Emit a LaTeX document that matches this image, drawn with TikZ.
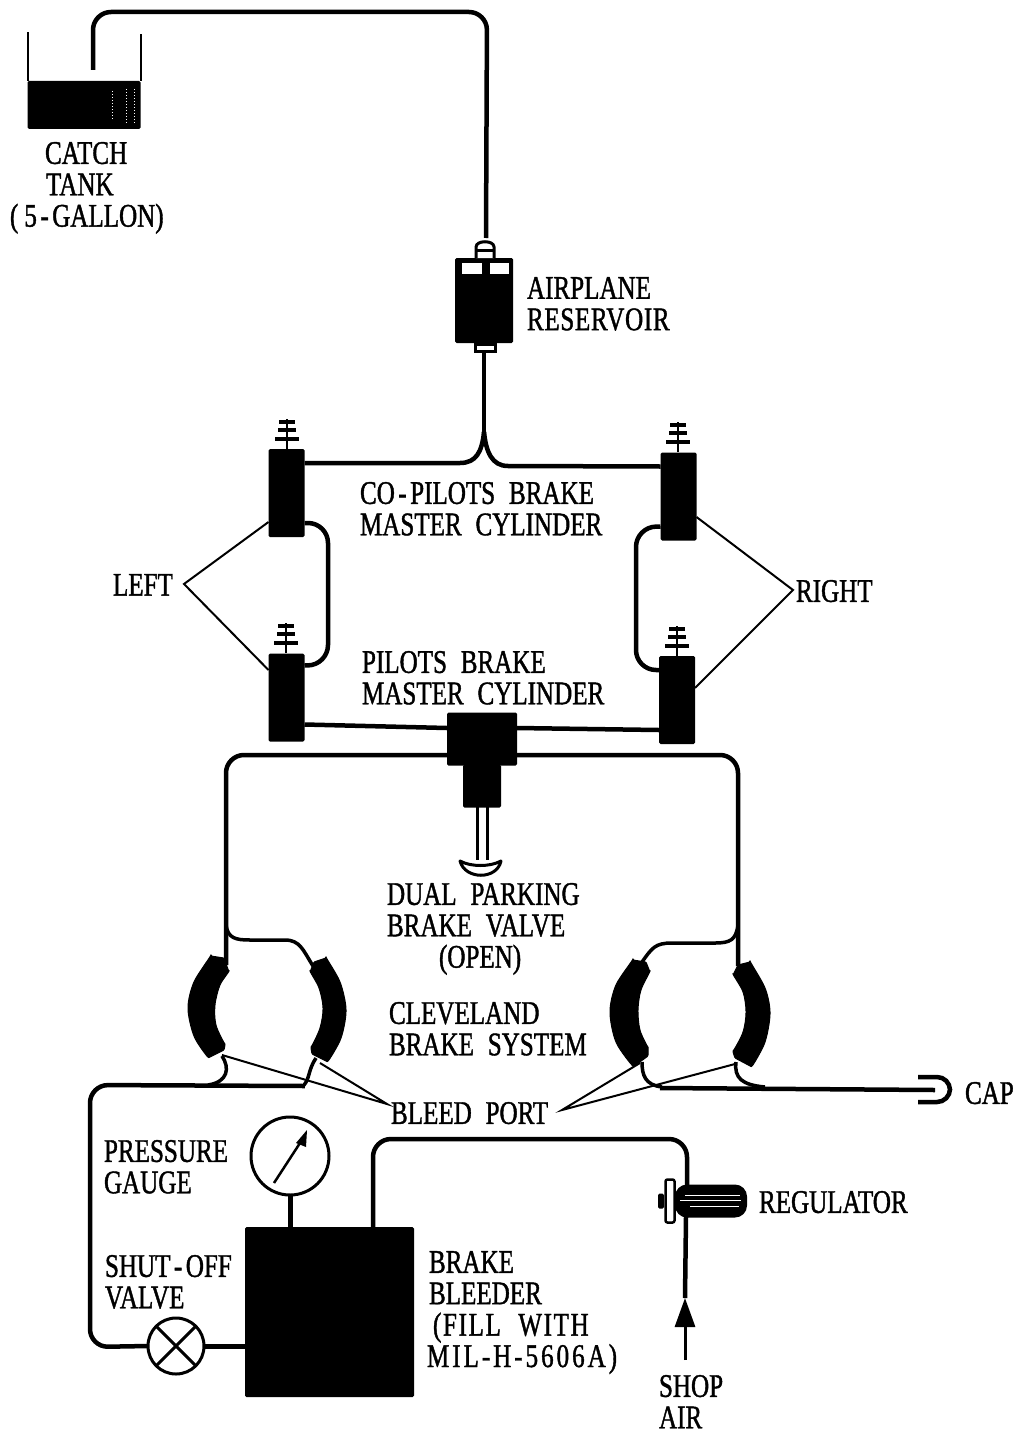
\documentclass[tikz,border=0pt]{standalone}
\usepackage{fontspec}
\setmainfont[FakeStretch=0.76,FakeBold=1.2,WordSpace=2.2]{Liberation Serif}
\usetikzlibrary{positioning,calc,arrows.meta}
\tikzset{PIPE/.style={line width=4.5pt, rounded corners=18pt}}
\tikzset{THIN/.style={line width=2pt}}
\tikzset{SOLID/.style={rectangle, fill=black, inner sep=0pt, outer sep=0pt, rounded corners=1.5pt}}
\tikzset{CYLINDER/.style={SOLID, minimum width=36pt, minimum height=88pt}}
\tikzset{PAD/.style={fill=black, draw=black, line width=1pt, rounded corners=1pt}}
\tikzset{DIAL/.style={circle, draw, fill=white, line width=3pt, inner sep=0pt, outer sep=0pt}}
\tikzset{LABEL/.style={anchor=north west, inner sep=0pt, outer sep=0pt, align=left, font=\fontsize{33pt}{31.4pt}\selectfont}}
\newcommand{\HY}{\hspace{3.5pt}-\hspace{3.5pt}}

\begin{document}
\begin{tikzpicture}[x=1pt, y=-1pt]
    \useasboundingbox (0,0) rectangle (1016,1434);

    % catch tank
    \node[SOLID, minimum width=113pt, minimum height=48pt] (n_liquid) at (84,105) {};
    \draw[THIN] (n_liquid.north west) -- ++(0,-49);
    \draw[THIN] (n_liquid.north east) -- ++(0,-47);
    \draw[white, line width=1pt, dotted] ($(n_liquid.north east)+(-28,10)$) -- ++(0,30);
    \draw[white, line width=1pt, dotted] ($(n_liquid.north east)+(-14,8)$) -- ++(0,34);
    \draw[white, line width=1pt, dotted] ($(n_liquid.north east)+(-6,8)$) -- ++(0,34);
    \node[LABEL] (n_tank_txt) at (10,142) {\hspace{35pt}CATCH\\\hspace{36pt}TANK\\(\hspace{6pt}5\HY GALLON)};

    % reservoir
    \node[SOLID, minimum width=58pt, minimum height=85pt] (n_res) at (484,300.5) {};
    \fill[white] (462,263) rectangle (482,274);
    \fill[white] (490,263) rectangle (509,274);
    \draw[fill=white, line width=3pt] (476,258) -- (476,247) .. controls (476,240) and (494,240) .. (494,247) -- (494,258);
    \draw[line width=3pt] (476,250) -- (494,250);
    \draw[fill=white, line width=3pt] (475,344) rectangle (495,351);
    \coordinate (res_top) at (486,238);
    \coordinate (res_bottom) at (484,352);
    \coordinate (fork) at (484,432);
    \coordinate (tank_pipe) at (93,70);
    \draw[PIPE] (tank_pipe) -- (93,12) -- (487,12) -- (res_top);
    \draw[line width=3.5pt] (res_bottom) -- (fork);
    \node[LABEL] (n_res_txt) at (527,277) {AIRPLANE\\{\addfontfeature{LetterSpace=2}RESERVOIR}};

    % master cylinders
    \node[CYLINDER] (n_cyl_tl) at (286.5,493) {};
    \node[CYLINDER] (n_cyl_tr) at (678.5,496.5) {};
    \node[CYLINDER] (n_cyl_bl) at (286.5,697.5) {};
    \node[CYLINDER] (n_cyl_br) at (677,700) {};
    \foreach \cyl/\sx/\sy in {n_cyl_tl/287/449, n_cyl_tr/678/452, n_cyl_bl/286/653, n_cyl_br/677/656} {
        \draw[line width=2.5pt] (\sx,\sy) -- ++(0,-30);
        \draw[line width=3.5pt] (\sx-8,\sy-27) -- ++(16,0);
        \draw[line width=3.5pt] (\sx-9,\sy-19) -- ++(18,0);
        \draw[line width=3.5pt] (\sx-12,\sy-10) -- ++(24,0);
    }
    \draw[PIPE, rounded corners=0pt] ($(n_cyl_tl.east)+(0,-30)$) -- (460,463) .. controls (476,463) and (482,452) .. (fork);
    \draw[PIPE, rounded corners=0pt] ($(n_cyl_tr.west)+(0,-30)$) -- (508,466) .. controls (492,466) and (486,452) .. (fork);
    \draw[PIPE, rounded corners=20pt] ($(n_cyl_tl.east)+(0,30)$) -- (328,523) -- (328,665) -- ($(n_cyl_bl.east)+(0,-32)$);
    \draw[PIPE, rounded corners=20pt] ($(n_cyl_tr.west)+(0,30)$) -- (636,527) -- (636,670) -- ($(n_cyl_br.west)+(0,-30)$);
    \node[LABEL] (n_copilot_txt) at (360,482) {CO\HY PILOTS BRAKE\\MASTER CYLINDER};
    \node[LABEL] (n_pilot_txt) at (362,651) {PILOTS BRAKE\\MASTER CYLINDER};

    % left and right leaders
    \node[LABEL] (n_left) at (113,574) {LEFT};
    \node[LABEL] (n_right) at (796,580) {RIGHT};
    \coordinate (left_apex) at (184,584);
    \coordinate (right_apex) at (793,590);
    \draw[THIN] (n_cyl_tl.west |- 0,522) -- (left_apex) -- (n_cyl_bl.west |- 0,670);
    \draw[THIN] (n_cyl_tr.east |- 0,517) -- (right_apex) -- (n_cyl_br.east |- 0,688);

    % parking brake valve
    \node[SOLID, minimum width=70pt, minimum height=53pt] (n_park) at (482,739) {};
    \node[SOLID, minimum width=38pt, minimum height=43pt] (n_park_low) at (482,786) {};
    \draw[PIPE, rounded corners=0pt] ($(n_cyl_bl.east)+(0,27)$) -- ($(n_park.west)+(0,-11)$);
    \draw[PIPE, rounded corners=0pt] ($(n_park.east)+(0,-11)$) -- ($(n_cyl_br.west)+(0,30)$);
    \draw[line width=3pt] (477,807) -- (477,860);
    \draw[line width=3pt] (487,807) -- (487,860);
    \draw[fill=white, line width=3pt, line join=round] (460,861) .. controls (465,880) and (497,880) .. (501,861) .. controls (490,867) and (471,867) .. cycle;
    \node[LABEL] (n_park_txt) at (387,883) {DUAL PARKING\\BRAKE VALVE\\\hspace{52pt}(OPEN)};
    \node[LABEL] (n_cleveland_txt) at (389,1002) {CLEVELAND\\BRAKE SYSTEM};

    % brake lines down to the calipers
    \coordinate (cal_ll_top) at (226,965);
    \coordinate (cal_lr_top) at (313,966);
    \coordinate (cal_rl_top) at (642,962);
    \coordinate (cal_rr_top) at (738,966);
    \draw[PIPE] ($(n_park.west)+(0,16)$) -- (226,755) -- (cal_ll_top);
    \draw[PIPE] ($(n_park.east)+(0,16)$) -- (738,755) -- (cal_rr_top);
    \draw[PIPE, rounded corners=0pt, line width=3.5pt] (226,925) .. controls (228,938) and (235,940) .. (250,940) -- (285,940) .. controls (300,940) and (303,950) .. (cal_lr_top);
    \draw[PIPE, rounded corners=0pt, line width=3.5pt] (738,925) .. controls (736,940) and (730,943) .. (715,943) -- (672,943) .. controls (655,943) and (652,948) .. (cal_rl_top);

    % calipers
    \filldraw[PAD] plot[smooth] coordinates {(211,956) (194,982) (188,1008) (194,1036) (208,1058)} -- (224,1050) -- plot[smooth] coordinates {(225,1045) (216,1025) (215,1005) (220,985) (229,972)} -- (224,958) -- cycle;
    \filldraw[PAD] plot[smooth] coordinates {(326,958) (340,982) (346,1010) (341,1038) (328,1062)} -- (312,1054) -- plot[smooth] coordinates {(311,1048) (320,1028) (323,1008) (319,988) (310,972)} -- (314,962) -- cycle;
    \filldraw[PAD] plot[smooth] coordinates {(633,960) (616,985) (610,1012) (616,1042) (633,1067)} -- (648,1056) -- plot[smooth] coordinates {(648,1048) (640,1030) (638,1010) (641,990) (650,972)} -- (646,962) -- cycle;
    \filldraw[PAD] plot[smooth] coordinates {(750,962) (765,988) (770,1013) (765,1042) (752,1067)} -- (735,1058) -- plot[smooth] coordinates {(733,1052) (743,1032) (746,1012) (743,992) (733,975)} -- (738,965) -- cycle;

    % bleed side of the calipers
    \node[DIAL, minimum size=56pt] (n_shutoff) at (176,1346) {};
    \draw[line width=3pt] (n_shutoff.north west) -- (n_shutoff.south east);
    \draw[line width=3pt] (n_shutoff.north east) -- (n_shutoff.south west);
    \draw[PIPE] (305,1086) -- (90,1085) -- (90,1347) -- (n_shutoff.west);
    \draw[line width=3.5pt] (222,1056) .. controls (230,1068) and (228,1082) .. (208,1085);
    \draw[line width=3.5pt] (316,1058) .. controls (308,1070) and (310,1078) .. (304,1085);
    \coordinate (cap_end) at (935,1090);
    \draw[line width=3.5pt] (642,1062) .. controls (642,1075) and (645,1085) .. (662,1087);
    \draw[line width=3.5pt] (736,1062) .. controls (734,1078) and (742,1085) .. (765,1087);
    \draw[PIPE, rounded corners=0pt] (660,1088) -- (cap_end);
    \draw[PIPE, rounded corners=13pt] (918,1077) -- (950,1077) -- (950,1102) -- (918,1102);
    \node[LABEL] (n_cap) at (965,1082) {CAP};

    \node[LABEL] (n_bleed) at (391,1102) {BLEED PORT};
    \coordinate (bleed_l) at (387,1104);
    \coordinate (bleed_r) at (562,1110);
    \draw[THIN] (222,1055) -- (bleed_l) -- (320,1063);
    \draw[THIN] (640,1063) -- (bleed_r) -- (735,1064);

    % brake bleeder and gauge
    \node[SOLID, minimum width=169pt, minimum height=170pt] (n_bleeder) at (329.5,1312) {};
    \node[DIAL, minimum size=78pt] (n_gauge) at (290,1156) {};
    \draw[line width=5pt] (n_gauge.south) -- (n_gauge.south |- n_bleeder.north);
    \draw[line width=2.5pt] (274,1183) -- (300,1143);
    \fill (307,1130) -- (306,1147) -- (296,1143) -- cycle;
    \draw[line width=5pt] (n_shutoff.east) -- (n_shutoff.east -| n_bleeder.west);
    \node[LABEL] (n_gauge_txt) at (104,1140) {PRESSURE\\GAUGE};
    \node[LABEL] (n_shutoff_txt) at (105,1255) {SHUT\HY OFF\\VALVE};
    \node[LABEL] (n_bleeder_txt) at (429,1251) {BRAKE\\BLEEDER\\\hspace{4pt}{\addfontfeature{LetterSpace=5}(FILL WITH}\\\hspace{-2pt}{\addfontfeature{LetterSpace=9}MIL-H-5606A)}};

    % regulator
    \node[SOLID, minimum width=72pt, minimum height=33pt, rounded corners=12pt] (n_reg) at (711,1201) {};
    \draw[white, line width=0.7pt] (685,1195) -- (740,1195);
    \draw[white, line width=0.7pt] (680,1200) -- (741,1200);
    \draw[white, line width=0.7pt] (690,1206) -- (739,1206);
    \node[rectangle, draw, fill=white, line width=2.5pt, rounded corners=2pt, inner sep=0pt, minimum width=9pt, minimum height=43pt] (n_reg_plate) at (670,1201) {};
    \node[SOLID, minimum width=6pt, minimum height=15pt] (n_reg_knob) at (661,1201) {};
    \coordinate (reg_in) at (686,1217);
    \coordinate (reg_out) at (687,1186);
    \coordinate (air_tail) at (685,1360);
    \coordinate (air_tip) at (685,1298);
    \draw[PIPE] (373,1227) -- (373,1139) -- (687,1139) -- (reg_out);
    \draw[line width=3pt, -{Triangle[length=29pt,width=20pt]}] (air_tail) -- (air_tip);
    \draw[PIPE, rounded corners=0pt] (air_tip) -- (reg_in);
    \node[LABEL] (n_reg_txt) at (759,1191) {REGULATOR};
    \node[LABEL] (n_air_txt) at (659,1375) {SHOP\\AIR};
\end{tikzpicture}
\end{document}
